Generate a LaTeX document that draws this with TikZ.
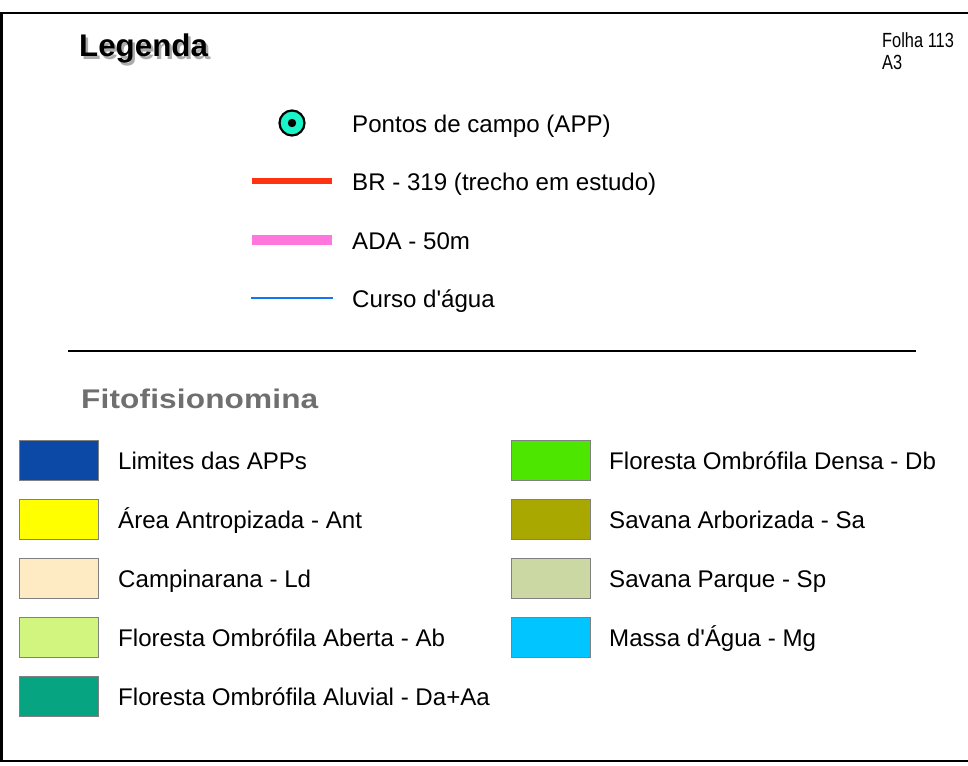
\documentclass[tikz,border=0pt]{standalone}
\usepackage{fontspec}
\setmainfont{Liberation Sans}
\newfontfamily\narrowfont[FakeStretch=0.8]{Liberation Sans}
\newfontfamily\fitofont[FakeStretch=1.17,LetterSpace=0.5]{Liberation Sans}
\definecolor{pointfill}{HTML}{19F5C8}
\definecolor{roadred}{HTML}{FF3311}
\definecolor{adapink}{HTML}{FF77DD}
\definecolor{riverblue}{HTML}{1177EE}
\definecolor{titlegray}{HTML}{6F6F6F}
\definecolor{shadowgray}{HTML}{ABABAB}
\definecolor{cLim}{HTML}{0C48A6}
\definecolor{cAnt}{HTML}{FFFF00}
\definecolor{cLd}{HTML}{FFEBC3}
\definecolor{cAb}{HTML}{D1F57F}
\definecolor{cDa}{HTML}{06A481}
\definecolor{cDb}{HTML}{4CE600}
\definecolor{cSa}{HTML}{A8A800}
\definecolor{cSp}{HTML}{CCD8A3}
\definecolor{cMg}{HTML}{00C5FF}
\tikzset{
  swatch/.style={draw=gray, line width=1pt, minimum width=79pt, minimum height=40pt, inner sep=0pt, anchor=north west},
  lbl/.style={anchor=base west, inner sep=0pt, font=\fontsize{24.1}{28}\selectfont},
  smalllbl/.style={anchor=base west, inner sep=0pt, font=\narrowfont\fontsize{20.5}{21.5}\selectfont},
  symline/.style={line cap=butt},
}
\begin{document}
\begin{tikzpicture}[x=1pt,y=-1pt]
\useasboundingbox (0,0) rectangle (968,765);
% frame
\draw[line width=2.5pt] (980,13) -- (1.5,13) -- (1.5,761) -- (980,761);
% title with shadow
\node[anchor=base west, inner sep=0pt, font=\bfseries\fontsize{31.3}{36}\selectfont] (title) at (79,57)
  {\rlap{\kern2.5pt\raisebox{-3pt}{\color{shadowgray}Legenda}}Legenda};
\node[smalllbl] (folha) at (882,48) {Folha 113};
\node[smalllbl] (folhaa) at (882,70) {A3};
% point symbol
\node[circle, draw=black, line width=2.2pt, fill=pointfill, minimum size=25pt, inner sep=0pt] (pt) at (292,123) {};
\fill (pt.center) circle (4.2pt);
\node[lbl] (ptl) at (352,132.7) {Pontos de campo (APP)};
% lines
\coordinate (r1) at (252,181); \coordinate (r2) at (332,181);
\draw[symline, roadred, line width=6.5pt] (r1) -- (r2);
\node[lbl] (rl) at (352,190.7) {BR - 319 (trecho em estudo)};
\coordinate (p1) at (252,240); \coordinate (p2) at (332,240);
\draw[symline, adapink, line width=10.5pt] (p1) -- (p2);
\node[lbl] (pl) at (352,249.7) {ADA - 50m};
\coordinate (b1) at (251,298); \coordinate (b2) at (333,298);
\draw[symline, riverblue, line width=2.5pt] (b1) -- (b2);
\node[lbl] (bl) at (352,307.7) {Curso d\textquotesingle água};
% separator
\coordinate (s1) at (68,351); \coordinate (s2) at (916,351);
\draw[line width=2.8pt] (s1) -- (s2);
\node[anchor=base west, inner sep=0pt, text=titlegray, font=\fitofont\bfseries\fontsize{27}{32}\selectfont] (fito) at (81,408) {Fitofisionomina};
% left column
\node[swatch, fill=cLim] (s1a) at (19,440) {};
\node[lbl] at (118,469.7) {Limites das APPs};
\node[swatch, fill=cAnt] (s2a) at (19,499) {};
\node[lbl] at (118,528.7) {Área Antropizada - Ant};
\node[swatch, fill=cLd] (s3a) at (19,558) {};
\node[lbl] at (118,587.7) {Campinarana - Ld};
\node[swatch, fill=cAb] (s4a) at (19,617) {};
\node[lbl] at (118,646.7) {Floresta Ombrófila Aberta - Ab};
\node[swatch, fill=cDa] (s5a) at (19,676) {};
\node[lbl] at (118,705.7) {Floresta Ombrófila Aluvial - Da+Aa};
% right column
\node[swatch, fill=cDb] (s1b) at (511,440) {};
\node[lbl] at (609,469.7) {Floresta Ombrófila Densa - Db};
\node[swatch, fill=cSa] (s2b) at (511,499) {};
\node[lbl] at (609,528.7) {Savana Arborizada - Sa};
\node[swatch, fill=cSp] (s3b) at (511,558) {};
\node[lbl] at (609,587.7) {Savana Parque - Sp};
\node[swatch, fill=cMg] (s4b) at (511,617) {};
\node[lbl] at (609,646.7) {Massa d\textquotesingle Água - Mg};
\end{tikzpicture}
\end{document}
